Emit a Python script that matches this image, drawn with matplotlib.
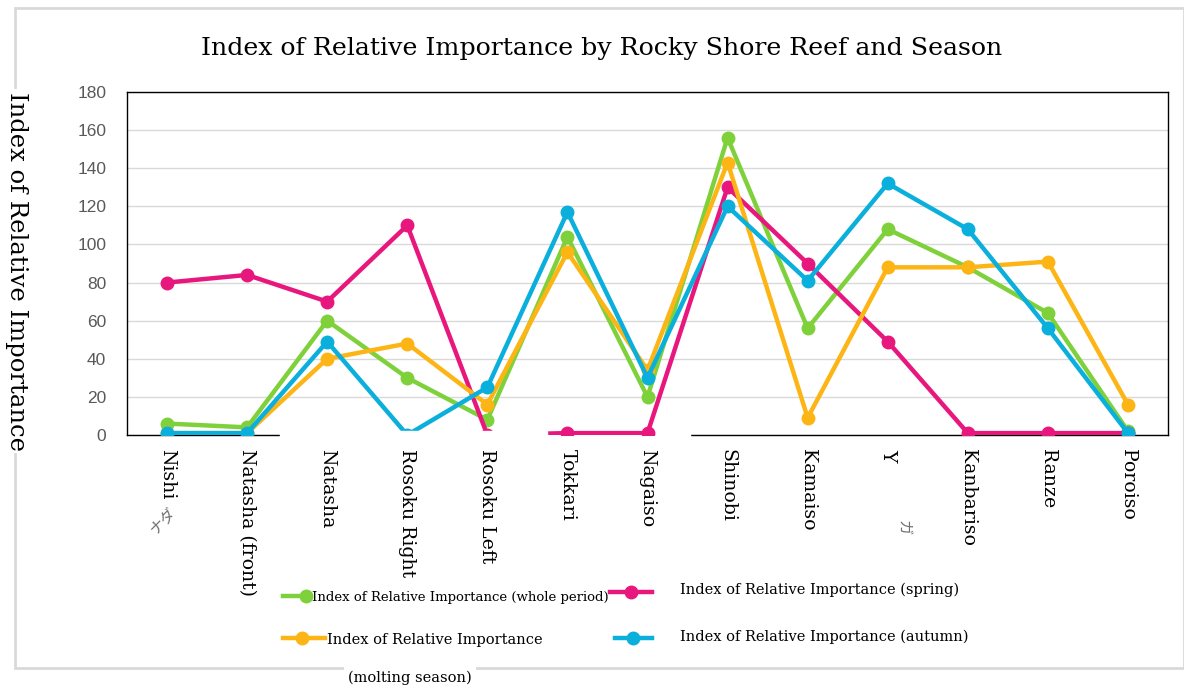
import matplotlib
matplotlib.use("Agg")
import matplotlib.pyplot as plt
from matplotlib.patches import Rectangle
from matplotlib.lines import Line2D

W, H = 1184, 687

reefs = ["Nishi", "Natasha (front)", "Natasha", "Rosoku Right", "Rosoku Left",
         "Tokkari", "Nagaiso", "Shinobi", "Kamaiso", "Y", "Kanbariso",
         "Ranze", "Poroiso"]
whole = [6, 4, 60, 30, 8, 104, 20, 156, 56, 108, 88, 64, 2]
spring = [80, 84, 70, 110, 0, 1, 1, 130, 90, 49, 1, 1, 1]
molting = [1, 1, 40, 48, 16, 96, 34, 143, 9, 88, 88, 91, 16]
autumn = [1, 1, 49, 0, 25, 117, 30, 120, 81, 132, 108, 56, 1]

c_whole = "#7fd13b"
c_spring = "#e8177d"
c_molting = "#fdb515"
c_autumn = "#0aafdc"

serif = "DejaVu Serif"


def fx(px):
    return px / W


def fy(py):
    return 1 - py / H


fig = plt.figure(figsize=(W / 100, H / 100), dpi=100)
ax = fig.add_axes([fx(127), fy(435), fx(1168) - fx(127), fy(92) - fy(435)])

x = list(range(len(reefs)))
series = [(whole, c_whole), (spring, c_spring), (molting, c_molting), (autumn, c_autumn)]
for vals, col in series:
    ax.plot(x, vals, color=col, lw=3.2, marker="o", ms=9, zorder=3,
            solid_capstyle="round")

ax.set_xlim(-0.5, len(reefs) - 0.5)
ax.set_ylim(0, 180)
ax.set_yticks(range(0, 181, 20))
ax.yaxis.grid(True, color="#d9d9d9", lw=1)
ax.set_axisbelow(True)
ax.tick_params(axis="y", length=0, pad=15, labelsize=12.5, labelcolor="#595959")
for lab in ax.get_yticklabels():
    lab.set_family("Liberation Sans")
ax.set_xticks(x)
ax.set_xticklabels(reefs, rotation=270, fontsize=13.6, family=serif, va="top", ha="center")
ax.tick_params(axis="x", length=0, pad=10)
for s in ax.spines.values():
    s.set_color("black")
    s.set_linewidth(1)

# white pieces covering the axis (as in the reference)
ax.add_patch(Rectangle((fx(547), fy(440)), fx(690) - fx(547), fy(432) - fy(440),
                       transform=fig.transFigure, color="white", zorder=2.7, clip_on=False))
fig.patches.append(Rectangle((fx(280), fy(440)), fx(547) - fx(280), fy(431) - fy(440),
                             transform=fig.transFigure, color="white", zorder=1))

# outer frame
fig.patches.append(Rectangle((fx(15), fy(668)), fx(1184) - fx(15), fy(8) - fy(668),
                             transform=fig.transFigure, fill=False, edgecolor="#d9d9d9",
                             lw=2, zorder=0.5))

fig.text(fx(602), fy(48), "Index of Relative Importance by Rocky Shore Reef and Season",
         ha="center", va="center", fontsize=18.2, family=serif, zorder=3)
fig.text(fx(16), fy(271), "Index of Relative Importance", rotation=270,
         ha="center", va="center", fontsize=17.5, family=serif, zorder=3,
         bbox=dict(facecolor="white", edgecolor="none", pad=2))

# leftover marks
fig.text(fx(162), fy(520), "ナダ", rotation=45, ha="center", va="center", fontsize=11,
         color="#707070", family=["Noto Sans CJK JP"], zorder=3)
fig.text(fx(902), fy(528), "ガ", rotation=270, ha="center", va="center", fontsize=11,
         color="#707070", family=["Noto Sans CJK JP"], zorder=3)

# legend drawn by hand
leg = [
    (c_whole, 283, 306, 306, 596, 312, 597, "Index of Relative Importance (whole period)", 9.5),
    (c_spring, 610, 652, 631, 592, 680, 590, "Index of Relative Importance (spring)", 10.5),
    (c_molting, 283, 325, 302, 638, 327, 640, "Index of Relative Importance", 10.5),
    (c_autumn, 615, 652, 633, 638, 680, 637, "Index of Relative Importance (autumn)", 10.5),
]
for col, x0, x1, xm, yl, xt, yt, txt, fs in leg:
    fig.lines.append(Line2D([fx(x0), fx(x1)], [fy(yl), fy(yl)], transform=fig.transFigure,
                            color=col, lw=3.2, zorder=3))
    fig.lines.append(Line2D([fx(xm)], [fy(yl)], transform=fig.transFigure, color=col,
                            marker="o", ms=9, zorder=3))
    fig.text(fx(xt), fy(yt), txt, ha="left", va="center", fontsize=fs, family=serif, zorder=3)
fig.text(fx(348), fy(678), "(molting season)", ha="left", va="center", fontsize=10.5,
         family=serif, zorder=3, bbox=dict(facecolor="white", edgecolor="none", pad=3))

fig.savefig("out.png", dpi=100)
